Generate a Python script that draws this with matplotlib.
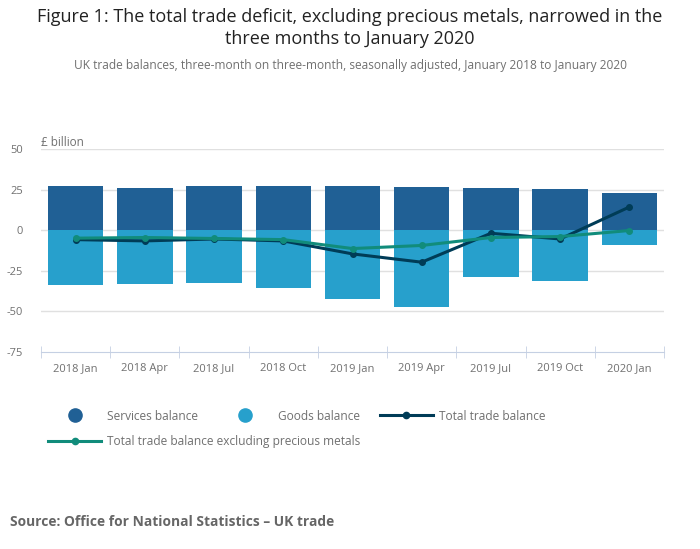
import matplotlib
matplotlib.use('Agg')
import matplotlib.pyplot as plt
from matplotlib.lines import Line2D
import numpy as np

plt.rcParams['font.family'] = ['Open Sans', 'DejaVu Sans']

periods = ['2018 Jan', '2018 Apr', '2018 Jul', '2018 Oct', '2019 Jan',
           '2019 Apr', '2019 Jul', '2019 Oct', '2020 Jan']
services = [27.2, 26.0, 27.2, 27.2, 27.2, 26.6, 26.0, 25.4, 23.0]
goods = [-34.0, -33.4, -32.8, -35.3, -42.6, -47.0, -29.1, -31.0, -9.4]
total = [-5.8, -6.6, -5.4, -6.6, -14.6, -19.7, -1.9, -5.4, 14.3]
total_excl = [-4.9, -4.5, -5.1, -5.8, -11.3, -9.4, -4.5, -3.9, -0.2]

C_SERV = '#206095'
C_GOODS = '#27a0cc'
C_TOTAL = '#003c57'
C_EXCL = '#118c7b'
GREY = '#707070'

fig = plt.figure(figsize=(7, 5.49), dpi=100)
ax = fig.add_axes([41 / 700, 1 - 352 / 549, 623 / 700, 203 / 549])

x = np.arange(len(periods))
ax.bar(x, services, width=0.8, color=C_SERV, zorder=2)
ax.bar(x, goods, width=0.8, color=C_GOODS, zorder=2)
ax.plot(x, total, color=C_TOTAL, lw=2.2, marker='o', ms=4, zorder=3)
ax.plot(x, total_excl, color=C_EXCL, lw=2.2, marker='o', ms=4, zorder=4)

ax.set_xlim(-0.5, len(periods) - 0.5)
ax.set_ylim(-75, 50)
ax.set_yticks([-75, -50, -25, 0, 25, 50])
ax.set_yticklabels(['-75', '-50', '-25', '0', '25', '50'])
for v in [-50, -25, 0, 25, 50]:
    ax.axhline(v, color='#e0e0e0', lw=1, zorder=1)

ax.set_xticks(x)
ax.set_xticklabels(periods)
ax.set_xticks(np.arange(-0.5, len(periods)), minor=True)
ax.tick_params(axis='x', which='major', length=0, labelsize=8, labelcolor=GREY, pad=8)
ax.tick_params(axis='x', which='minor', length=8, color='#c5d0e3', direction='inout')
ax.tick_params(axis='y', length=0, labelsize=8, labelcolor=GREY, pad=13)

for s in ['top', 'right', 'left']:
    ax.spines[s].set_visible(False)
ax.spines['bottom'].set_color('#c5d0e3')

ax.text(0, 1.03, '£ billion', transform=ax.transAxes, fontsize=8.5,
        color=GREY, va='center', ha='left')

fig.text(0.5, 1 - 17 / 549, 'Figure 1: The total trade deficit, excluding precious metals, narrowed in the',
         ha='center', va='center', fontsize=13, color='#222222')
fig.text(0.5, 1 - 39 / 549, 'three months to January 2020',
         ha='center', va='center', fontsize=13, color='#222222')
fig.text(0.5, 1 - 65 / 549,
         'UK trade balances, three-month on three-month, seasonally adjusted, January 2018 to January 2020',
         ha='center', va='center', fontsize=8.6, color=GREY)

handles1 = [
    Line2D([], [], ls='none', marker='o', ms=9.5, color=C_SERV),
    Line2D([], [], ls='none', marker='o', ms=9.5, color=C_GOODS),
    Line2D([], [], color=C_TOTAL, lw=2.2, marker='o', ms=4.5),
]
labels1 = ['Services balance', 'Goods balance', 'Total trade balance']
fig.legend(handles1, labels1, loc='center left', ncol=3,
           bbox_to_anchor=(48 / 700, 1 - 416 / 549), frameon=False,
           fontsize=8.6, labelcolor=GREY, handlelength=4.45,
           handletextpad=0.5, columnspacing=1.7, borderpad=0, borderaxespad=0)
handles2 = [Line2D([], [], color=C_EXCL, lw=2.2, marker='o', ms=4.5)]
fig.legend(handles2, ['Total trade balance excluding precious metals'],
           loc='center left', bbox_to_anchor=(48 / 700, 1 - 442 / 549),
           frameon=False, fontsize=8.6, labelcolor=GREY, handlelength=4.45,
           handletextpad=0.5, borderpad=0, borderaxespad=0)

fig.text(10 / 700, 1 - 522 / 549, 'Source: Office for National Statistics – UK trade',
         ha='left', va='center', fontsize=9.9, fontweight='bold', color='#666666')

fig.savefig('out.png', dpi=100)
